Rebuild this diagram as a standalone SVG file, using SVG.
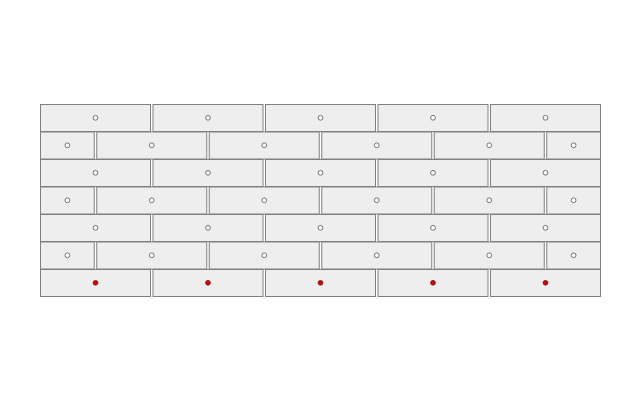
<svg xmlns="http://www.w3.org/2000/svg" width="640" height="400" viewBox="0 0 640 400">
<style>
.b{fill:#eeeeee;stroke:#808080;stroke-width:1}
.h{fill:#ffffff;stroke:#555555;stroke-width:0.8}
.r{fill:#dd0000;stroke:#7a1010;stroke-width:0.8}
</style>
<rect width="640" height="400" fill="#ffffff"/>
<g id="row1">
<rect class="b" x="40.5" y="104.5" width="110" height="27"/>
<rect class="b" x="153" y="104.5" width="110" height="27"/>
<rect class="b" x="265.5" y="104.5" width="110" height="27"/>
<rect class="b" x="378" y="104.5" width="110" height="27"/>
<rect class="b" x="490.5" y="104.5" width="110" height="27"/>
<circle class="h" cx="95.5" cy="117.8" r="2.4"/>
<circle class="h" cx="208" cy="117.8" r="2.4"/>
<circle class="h" cx="320.5" cy="117.8" r="2.4"/>
<circle class="h" cx="433" cy="117.8" r="2.4"/>
<circle class="h" cx="545.5" cy="117.8" r="2.4"/>
</g>
<g id="row2">
<rect class="b" x="40.5" y="132" width="53.75" height="27"/>
<rect class="b" x="96.75" y="132" width="110" height="27"/>
<rect class="b" x="209.25" y="132" width="110" height="27"/>
<rect class="b" x="321.75" y="132" width="110" height="27"/>
<rect class="b" x="434.25" y="132" width="110" height="27"/>
<rect class="b" x="546.75" y="132" width="53.75" height="27"/>
<circle class="h" cx="67.4" cy="145.3" r="2.4"/>
<circle class="h" cx="151.75" cy="145.3" r="2.4"/>
<circle class="h" cx="264.25" cy="145.3" r="2.4"/>
<circle class="h" cx="376.75" cy="145.3" r="2.4"/>
<circle class="h" cx="489.25" cy="145.3" r="2.4"/>
<circle class="h" cx="573.6" cy="145.3" r="2.4"/>
</g>
<g id="row3">
<rect class="b" x="40.5" y="159.5" width="110" height="27"/>
<rect class="b" x="153" y="159.5" width="110" height="27"/>
<rect class="b" x="265.5" y="159.5" width="110" height="27"/>
<rect class="b" x="378" y="159.5" width="110" height="27"/>
<rect class="b" x="490.5" y="159.5" width="110" height="27"/>
<circle class="h" cx="95.5" cy="172.8" r="2.4"/>
<circle class="h" cx="208" cy="172.8" r="2.4"/>
<circle class="h" cx="320.5" cy="172.8" r="2.4"/>
<circle class="h" cx="433" cy="172.8" r="2.4"/>
<circle class="h" cx="545.5" cy="172.8" r="2.4"/>
</g>
<g id="row4">
<rect class="b" x="40.5" y="187" width="53.75" height="27"/>
<rect class="b" x="96.75" y="187" width="110" height="27"/>
<rect class="b" x="209.25" y="187" width="110" height="27"/>
<rect class="b" x="321.75" y="187" width="110" height="27"/>
<rect class="b" x="434.25" y="187" width="110" height="27"/>
<rect class="b" x="546.75" y="187" width="53.75" height="27"/>
<circle class="h" cx="67.4" cy="200.3" r="2.4"/>
<circle class="h" cx="151.75" cy="200.3" r="2.4"/>
<circle class="h" cx="264.25" cy="200.3" r="2.4"/>
<circle class="h" cx="376.75" cy="200.3" r="2.4"/>
<circle class="h" cx="489.25" cy="200.3" r="2.4"/>
<circle class="h" cx="573.6" cy="200.3" r="2.4"/>
</g>
<g id="row5">
<rect class="b" x="40.5" y="214.5" width="110" height="27"/>
<rect class="b" x="153" y="214.5" width="110" height="27"/>
<rect class="b" x="265.5" y="214.5" width="110" height="27"/>
<rect class="b" x="378" y="214.5" width="110" height="27"/>
<rect class="b" x="490.5" y="214.5" width="110" height="27"/>
<circle class="h" cx="95.5" cy="227.8" r="2.4"/>
<circle class="h" cx="208" cy="227.8" r="2.4"/>
<circle class="h" cx="320.5" cy="227.8" r="2.4"/>
<circle class="h" cx="433" cy="227.8" r="2.4"/>
<circle class="h" cx="545.5" cy="227.8" r="2.4"/>
</g>
<g id="row6">
<rect class="b" x="40.5" y="242" width="53.75" height="27"/>
<rect class="b" x="96.75" y="242" width="110" height="27"/>
<rect class="b" x="209.25" y="242" width="110" height="27"/>
<rect class="b" x="321.75" y="242" width="110" height="27"/>
<rect class="b" x="434.25" y="242" width="110" height="27"/>
<rect class="b" x="546.75" y="242" width="53.75" height="27"/>
<circle class="h" cx="67.4" cy="255.3" r="2.4"/>
<circle class="h" cx="151.75" cy="255.3" r="2.4"/>
<circle class="h" cx="264.25" cy="255.3" r="2.4"/>
<circle class="h" cx="376.75" cy="255.3" r="2.4"/>
<circle class="h" cx="489.25" cy="255.3" r="2.4"/>
<circle class="h" cx="573.6" cy="255.3" r="2.4"/>
</g>
<g id="row7">
<rect class="b" x="40.5" y="269.5" width="110" height="27"/>
<rect class="b" x="153" y="269.5" width="110" height="27"/>
<rect class="b" x="265.5" y="269.5" width="110" height="27"/>
<rect class="b" x="378" y="269.5" width="110" height="27"/>
<rect class="b" x="490.5" y="269.5" width="110" height="27"/>
<circle class="r" cx="95.5" cy="282.8" r="2.4"/>
<circle class="r" cx="208" cy="282.8" r="2.4"/>
<circle class="r" cx="320.5" cy="282.8" r="2.4"/>
<circle class="r" cx="433" cy="282.8" r="2.4"/>
<circle class="r" cx="545.5" cy="282.8" r="2.4"/>
</g>
<g id="connectors"></g>
</svg>
